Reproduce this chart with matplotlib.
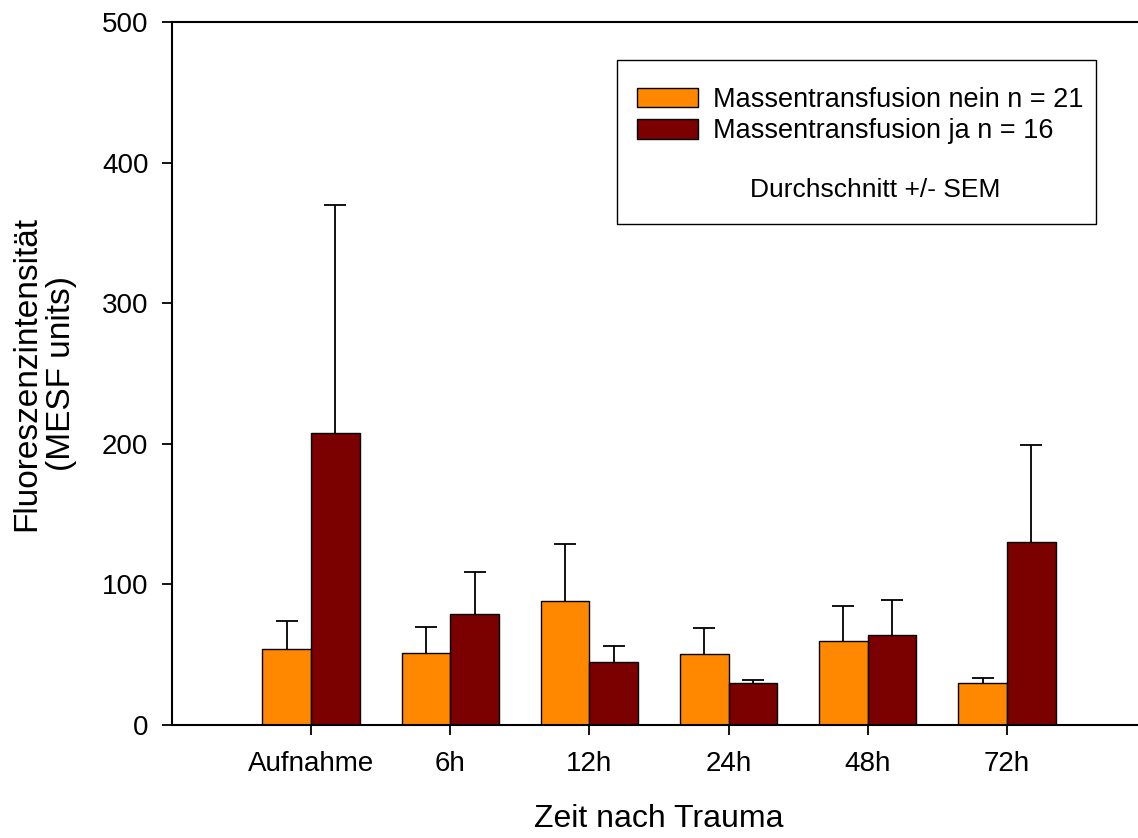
import matplotlib.pyplot as plt
import numpy as np
from matplotlib.patches import Rectangle

plt.rcParams['font.family'] = ['Liberation Sans', 'DejaVu Sans']

categories = ['Aufnahme', '6h', '12h', '24h', '48h', '72h']
nein_mean = [54, 51.5, 88, 50.5, 60, 30]
nein_sem = [20, 18.5, 41, 18.5, 24.5, 3.5]
ja_mean = [208, 79, 45, 30, 64, 130]
ja_sem = [162, 30, 11, 2, 25, 69]

label_nein = 'Massentransfusion nein n = 21'
label_ja = 'Massentransfusion ja n = 16'
orange = '#FF8800'
darkred = '#7B0000'

W, H = 1138, 838
fig = plt.figure(figsize=(W / 100, H / 100), dpi=100)
ax = fig.add_axes([172 / W, (H - 725) / H, 974 / W, 703 / H])

x = np.arange(1, len(categories) + 1)
width = 0.35
err_kw = dict(ecolor='black', elinewidth=1.3, capsize=8, capthick=1.3)
for offs, mean, sem, col, lab in [(-width / 2, nein_mean, nein_sem, orange, label_nein),
                                  (width / 2, ja_mean, ja_sem, darkred, label_ja)]:
    bars = ax.bar(x + offs, mean, width, yerr=[np.zeros(len(x)), sem],
                  color=col, edgecolor='black', linewidth=1.0, error_kw=err_kw,
                  label=lab, zorder=2)
    # hide the lower caps so only the upper whisker shows
    caps = bars.errorbar.lines[1]
    if caps:
        caps[0].set_visible(False)

ax.set_xlim(0, 7)
ax.set_ylim(0, 500)
ax.set_yticks([0, 100, 200, 300, 400, 500])
ax.set_xticks(x)
ax.set_xticklabels(categories)
ax.tick_params(axis='both', direction='out', length=7, width=1.3, labelsize=20)
ax.tick_params(axis='x', pad=12)
ax.tick_params(axis='y', pad=10)
ax.spines['right'].set_visible(False)
for s in ('left', 'top', 'bottom'):
    ax.spines[s].set_linewidth(1.5)

ax.set_xlabel('Zeit nach Trauma', fontsize=23, labelpad=19)
ax.set_ylabel('Fluoreszenzintensität\n(MESF units)', fontsize=24, labelpad=18,
              linespacing=1.15)

# legend box
box = Rectangle((617 / W, 1 - 224 / H), (1096 - 617) / W, (224 - 60) / H,
                transform=fig.transFigure, fill=False, edgecolor='black',
                linewidth=1.0, zorder=5)
fig.patches.append(box)
leg = ax.legend(loc='upper left', bbox_to_anchor=(637 / W, 1 - 87 / H),
                bbox_transform=fig.transFigure, frameon=False, fontsize=19.5,
                handlelength=2.25, handleheight=0.74, handletextpad=0.55,
                labelspacing=0.2, borderaxespad=0, borderpad=0)
fig.text(875 / W, 1 - 190 / H, 'Durchschnitt +/- SEM', fontsize=19,
         ha='center', va='center')

fig.savefig('out.png', dpi=100)
